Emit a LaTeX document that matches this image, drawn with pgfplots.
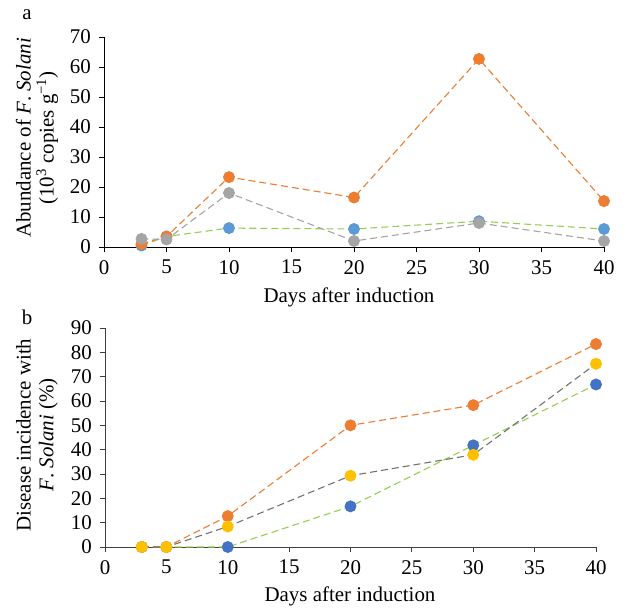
\documentclass[border=0pt]{standalone}
\usepackage{fontspec}
\setmainfont{Liberation Serif}
\usepackage{pgfplots}
\pgfplotsset{compat=1.18}
\definecolor{cOr}{HTML}{ED7D31}
\definecolor{cGrA}{HTML}{A5A5A5}
\definecolor{cBlA}{HTML}{5B9BD5}
\definecolor{cGn}{HTML}{92D050}
\definecolor{cYe}{HTML}{FFC000}
\definecolor{cBlB}{HTML}{4472C4}
\definecolor{cGrB}{HTML}{737373}
\newcommand{\fs}{\fontsize{21}{23}\selectfont}
\begin{document}
\fs
\begin{tikzpicture}
\path[use as bounding box] (0bp,0bp) rectangle (627bp,-609bp);
\pgfplotsset{
  myax/.style={
    scale only axis,
    anchor=south west,
    clip=false,
    axis x line*=bottom,
    axis y line*=left,
    axis line style={line width=0.9bp, black},
    tick align=outside,
    major tick length=5bp,
    tick style={line width=0.9bp, black},
    xmin=0, xmax=40, ymin=0,
    xtick={0,5,...,40},
    /pgf/number format/assume math mode=true,
    tick label style={font=\fs},
    xticklabel style={yshift=-1bp},
    yticklabel style={xshift=-1bp},
  },
  ln/.style={dash pattern=on 7bp off 4bp, line width=1.1bp, mark=*, mark size=5.4bp},
}
% Panel a
\begin{axis}[myax, at={(104bp,-247bp)}, width=500bp, height=210bp, ymax=70, ytick={0,10,...,70}]
\addplot[ln, color=cGn, mark options={solid, fill=cBlA, draw=cBlA}] coordinates {(3,0.5) (5,3.5) (10,6.3) (20,6) (30,8.6) (40,6)};
\addplot[ln, color=cOr, mark options={solid, fill=cOr, draw=cOr}] coordinates {(3,1) (5,3.5) (10,23.3) (20,16.5) (30,62.7) (40,15.3)};
\addplot[ln, color=cGrA, mark options={solid, fill=cGrA, draw=cGrA}] coordinates {(3,2.7) (5,2.5) (10,18) (20,2) (30,8) (40,2)};
\end{axis}
% Panel b
\begin{axis}[myax, at={(105bp,-547bp)}, width=491bp, height=219bp, ymax=90, ytick={0,10,...,90},
  axis line style={line width=0.9bp, black!75}, tick style={line width=0.9bp, black!75}]
\addplot[ln, color=cGn, mark options={solid, fill=cBlB, draw=cBlB}] coordinates {(3,0) (5,0) (10,0) (20,16.7) (30,41.8) (40,66.8)};
\addplot[ln, color=cOr, mark options={solid, fill=cOr, draw=cOr}] coordinates {(3,0) (5,0) (10,12.7) (20,50) (30,58.3) (40,83.4)};
\addplot[ln, color=cGrB, mark options={solid, fill=cYe, draw=cYe}] coordinates {(3,0) (5,0) (10,8.4) (20,29.3) (30,37.9) (40,75.3)};
\end{axis}
% labels
\node at (27bp,-15bp) {a};
\node at (27bp,-317bp) {b};
\node[rotate=90, align=center] at (37bp,-138bp) {Abundance of \textit{F}. \textit{Solani}\\(10\textsuperscript{3} copies g\textsuperscript{\textminus1})};
\node[rotate=90, align=center] at (37bp,-435bp) {Disease incidence with\\\textit{F}. \textit{Solani} (\%)};
\node at (349bp,-297bp) {Days after induction};
\node at (350bp,-596bp) {Days after induction};
\end{tikzpicture}
\end{document}
